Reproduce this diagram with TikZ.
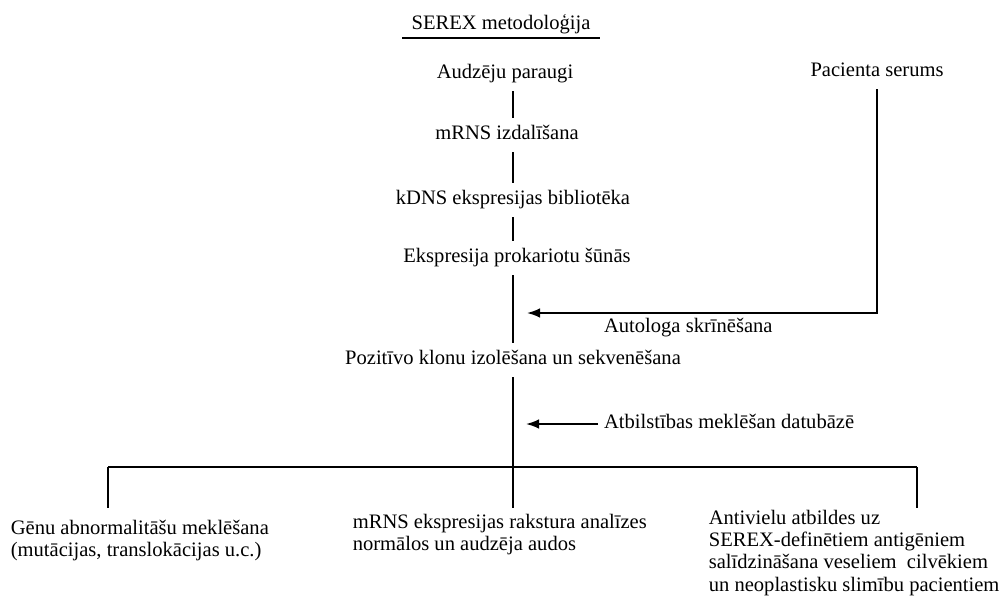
\documentclass[tikz,border=0pt]{standalone}
\usepackage{fontspec}
\setmainfont{Liberation Serif}
\usepackage{tikz}
\usetikzlibrary{arrows.meta}

\begin{document}
\begin{tikzpicture}[x = 0.02cm, y = -0.02cm, line width = 0.95pt, font = \fontsize{11.7}{12.7}\selectfont]
            \tikzstyle{stage} = [inner xsep = 3pt, inner ysep = 4pt, text height = 8pt, text depth = 2.5pt];
            \tikzstyle{outcome} = [anchor = north west, inner sep = 0pt, align = left];
            \tikzstyle{feed} = [-{Latex[length = 7.5pt, width = 5.5pt]}];
            \useasboundingbox (0, 0) rectangle (1000, 598);

            \node [stage, inner xsep = 5pt, inner ysep = 1.5pt] (title) at (501, 25) {SEREX metodoloģija};
            \draw [line width = 1.3pt] (title.south west) -- (title.south east);

            \coordinate (spine) at (513, 0);
            \coordinate (foot) at (0, 508);

            \node [stage] (aud) at (505, 74) {Audzēju paraugi};
            \node [stage] (mrns) at (507, 135) {mRNS izdalīšana};
            \node [stage] (kdns) at (513, 200) {kDNS ekspresijas bibliotēka};
            \node [stage] (expr) at (517, 258) {Ekspresija prokariotu šūnās};
            \node [stage] (poz) at (513, 360) {Pozitīvo klonu izolēšana un sekvenēšana};
            \node [stage] (pac) at (877, 72) {Pacienta serums};

            \node [stage, anchor = west] (auto) at (598, 328) {Autologa skrīnēšana};
            \node [stage, anchor = west] (atb) at (598, 424) {Atbilstības meklēšan datubāzē};
            \coordinate (autotip) at (527, 313);
            \coordinate (atbtip) at (526, 424);

            \node [outcome] (gen) at (10, 519) {Gēnu abnormalitāšu meklēšana\\(mutācijas, translokācijas u.c.)};
            \node [outcome] (expan) at (352, 513) {mRNS ekspresijas rakstura analīzes\\normālos un audzēja audos};
            \node [outcome] (anti) at (708, 509) {Antivielu atbildes uz\\SEREX-definētiem antigēniem\\salīdzināšana veseliem\ \ cilvēkiem\\un neoplastisku slimību pacientiem};

            \coordinate (barl) at (108, 467);
            \coordinate (barr) at (917, 467);

            \foreach \a/\b in {aud/mrns, mrns/kdns, kdns/expr, expr/poz}
                \draw (\a.south -| spine) -- (\b.north -| spine);
            \draw (poz.south -| spine) -- (spine |- foot);
            \draw [feed] (pac.south) |- (autotip);
            \draw [feed] (atb.west) -- (atbtip);
            \draw (barl) -- (barr);
            \foreach \c in {barl, barr}
                \draw (\c) -- (\c |- foot);
        \end{tikzpicture}
\end{document}
